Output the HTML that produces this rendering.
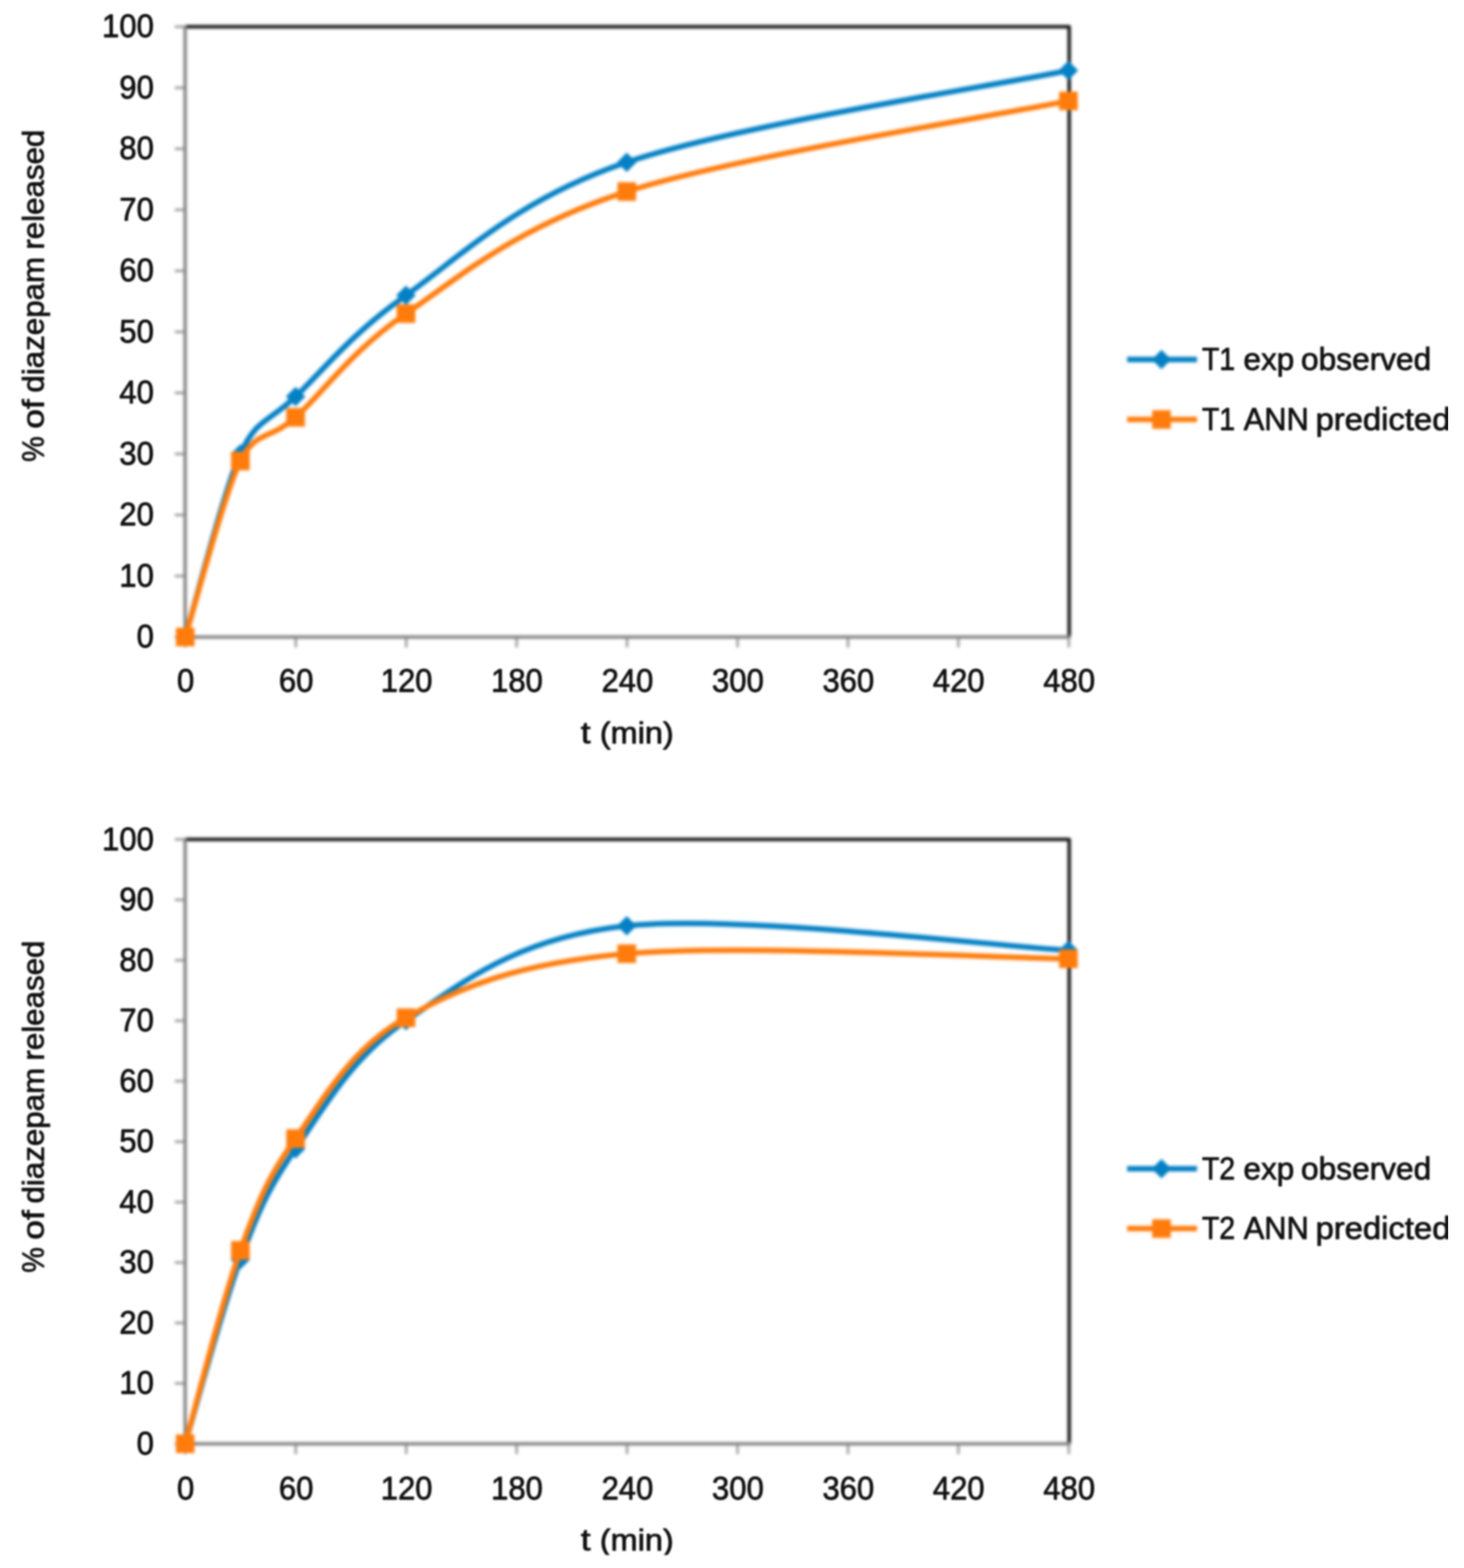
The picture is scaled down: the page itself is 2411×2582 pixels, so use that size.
<!DOCTYPE html>
<html lang="en">
<head>
<meta charset="utf-8">
<title>Diazepam release: experimentally observed vs ANN predicted (T1, T2)</title>
<style>
html,body{margin:0;padding:0;background:#fff}
html{width:2411px;height:2582px;overflow:hidden}
body{width:2411px;height:2582px;position:relative;overflow:hidden}
.wrap{width:2385px;height:2582px;overflow:hidden;position:absolute;left:0;top:0}
svg{display:block;position:absolute;left:0;top:0}
.shapes{filter:blur(2.4px)}
.texts{filter:blur(1.8px)}
text{font-family:"Liberation Sans",sans-serif;font-size:54.5px;fill:#111111;stroke:#111111;stroke-width:1.25px;stroke-linejoin:round;white-space:pre}
.ttl{font-size:50.5px}
.lg{font-size:52.0px}
.ylab text{text-anchor:end}
.xlab text{text-anchor:middle}
.border{fill:none;stroke:#0c0c0c;stroke-width:5.5;stroke-linejoin:round}
.axis{fill:none;stroke:#838383;stroke-width:5.5}
.tick{fill:none;stroke:#9a9a9a;stroke-width:4.0}
.ln{fill:none;stroke-width:9.0;stroke-linejoin:round}
.b{stroke:#0480c4}.o{stroke:#ff7c0c}
.bf{fill:#0480c4}.of{fill:#ff7c0c}
</style>
</head>
<body>
<div class="wrap">
<svg width="2411" height="2582" viewBox="0 0 2411 2582" role="img">
<defs><clipPath id="cutb"><rect x="0" y="0" width="2411" height="2560.6"/></clipPath></defs>
<rect width="2411" height="2582" fill="#fff"/>
<g class="shapes">
<g class="plot" aria-label="T1 plot area">
<path class="border" d="M304.9 44.1H1760.8V1049"/>
<path class="tick" d="M287.9 1049H304.9M287.9 948.5H304.9M287.9 848H304.9M287.9 747.5H304.9M287.9 647H304.9M287.9 546.5H304.9M287.9 446.1H304.9M287.9 345.6H304.9M287.9 245.1H304.9M287.9 144.6H304.9M287.9 44.1H304.9M305.2 1049V1066M487.1 1049V1066M669 1049V1066M850.8 1049V1066M1032.7 1049V1066M1214.6 1049V1066M1396.5 1049V1066M1578.3 1049V1066M1760.2 1049V1066"/>
<path class="axis" d="M304.9 42.1V1049H1762.8"/>
<path class="ln b" d="M305 1049C320.2 998.8 368.6 807.1 395.9 747.5C423.3 688 441.4 696.6 486.8 653.1C532.3 609.5 577.7 550.6 668.6 486.3C759.5 421.9 850.4 328.9 1032.2 267.2C1214.1 205.5 1638.3 141.2 1759.5 116"/>
<g class="mk bf"><path d="M305 1033L321 1049L305 1065L289 1049Z"/><path d="M395.9 731.5L411.9 747.5L395.9 763.5L379.9 747.5Z"/><path d="M486.8 637.1L502.8 653.1L486.8 669.1L470.8 653.1Z"/><path d="M668.6 470.3L684.6 486.3L668.6 502.3L652.6 486.3Z"/><path d="M1032.2 251.2L1048.2 267.2L1032.2 283.2L1016.2 267.2Z"/><path d="M1759.5 100L1775.5 116L1759.5 132L1743.5 116Z"/></g>
<path class="ln o" d="M305 1049C320.2 1000.7 369.9 810.9 395.9 759.1C421.9 707.3 443.5 725.8 486.8 687.2C530.1 648.7 577.7 578.4 668.6 516.4C759.5 454.4 850.4 373.8 1032.2 315.4C1214.1 257.1 1638.3 191.1 1759.5 166.2"/>
<g class="mk of"><rect x="289.7" y="1033.7" width="30.6" height="30.6"/><rect x="380.6" y="743.8" width="30.6" height="30.6"/><rect x="471.5" y="671.9" width="30.6" height="30.6"/><rect x="653.3" y="501.1" width="30.6" height="30.6"/><rect x="1016.9" y="300.1" width="30.6" height="30.6"/><rect x="1744.2" y="150.9" width="30.6" height="30.6"/></g>
<path class="ln b" d="M1856.2 592.1H1971.3"/>
<g class="mk bf"><path d="M1912.8 576.1L1928.8 592.1L1912.8 608.1L1896.8 592.1Z"/></g>
<path class="ln o" d="M1856.2 690.8H1971.3"/>
<g class="mk of"><rect x="1897.5" y="675.5" width="30.6" height="30.6"/></g>
</g>
<g class="plot" aria-label="T2 plot area">
<path class="border" d="M304.9 1382.3H1760.8V2377.4"/>
<path class="tick" d="M287.9 2377.4H304.9M287.9 2277.9H304.9M287.9 2178.4H304.9M287.9 2078.9H304.9M287.9 1979.4H304.9M287.9 1879.9H304.9M287.9 1780.3H304.9M287.9 1680.8H304.9M287.9 1581.3H304.9M287.9 1481.8H304.9M287.9 1382.3H304.9M305.2 2377.4V2394.4M487.1 2377.4V2394.4M669 2377.4V2394.4M850.8 2377.4V2394.4M1032.7 2377.4V2394.4M1214.6 2377.4V2394.4M1396.5 2377.4V2394.4M1578.3 2377.4V2394.4M1760.2 2377.4V2394.4"/>
<path class="axis" d="M304.9 1380.3V2377.4H1762.8"/>
<path class="ln b" d="M305 2377.4C320.2 2326.8 365.6 2154.8 395.9 2073.9C426.2 1993 441.4 1957.3 486.8 1891.8C532.3 1826.3 577.7 1742 668.6 1680.8C759.5 1619.6 850.4 1543.9 1032.2 1524.6C1214.1 1505.3 1638.3 1558.2 1759.5 1564.9"/>
<g class="mk bf"><path d="M305 2361.4L321 2377.4L305 2393.4L289 2377.4Z"/><path d="M395.9 2057.9L411.9 2073.9L395.9 2089.9L379.9 2073.9Z"/><path d="M486.8 1875.8L502.8 1891.8L486.8 1907.8L470.8 1891.8Z"/><path d="M668.6 1664.8L684.6 1680.8L668.6 1696.8L652.6 1680.8Z"/><path d="M1032.2 1508.6L1048.2 1524.6L1032.2 1540.6L1016.2 1524.6Z"/><path d="M1759.5 1548.9L1775.5 1564.9L1759.5 1580.9L1743.5 1564.9Z"/></g>
<path class="ln o" d="M305 2377.4C320.2 2324.3 365.6 2142.7 395.9 2059C426.2 1975.2 441.4 1938.7 486.8 1874.9C532.3 1811 577.7 1726.6 668.6 1675.9C759.5 1625.1 850.4 1586.5 1032.2 1570.4C1214.1 1554.2 1638.3 1577.4 1759.5 1578.8"/>
<g class="mk of"><rect x="289.7" y="2362.1" width="30.6" height="30.6"/><rect x="380.6" y="2043.7" width="30.6" height="30.6"/><rect x="471.5" y="1859.6" width="30.6" height="30.6"/><rect x="653.3" y="1660.6" width="30.6" height="30.6"/><rect x="1016.9" y="1555.1" width="30.6" height="30.6"/><rect x="1744.2" y="1563.5" width="30.6" height="30.6"/></g>
<path class="ln b" d="M1856.2 1924.5H1971.3"/>
<g class="mk bf"><path d="M1912.8 1908.5L1928.8 1924.5L1912.8 1940.5L1896.8 1924.5Z"/></g>
<path class="ln o" d="M1856.2 2023.1H1971.3"/>
<g class="mk of"><rect x="1897.5" y="2007.8" width="30.6" height="30.6"/></g>
</g>
</g>
<g class="texts">
<g class="labels" aria-label="T1 labels">
<g class="ylab">
<text x="253.3" y="61.3" textLength="85.2" lengthAdjust="spacingAndGlyphs">100</text>
<text x="253.3" y="161.8" textLength="56.8" lengthAdjust="spacingAndGlyphs">90</text>
<text x="253.3" y="262.3" textLength="56.8" lengthAdjust="spacingAndGlyphs">80</text>
<text x="253.3" y="362.8" textLength="56.8" lengthAdjust="spacingAndGlyphs">70</text>
<text x="253.3" y="463.3" textLength="56.8" lengthAdjust="spacingAndGlyphs">60</text>
<text x="253.3" y="563.8" textLength="56.8" lengthAdjust="spacingAndGlyphs">50</text>
<text x="253.3" y="664.3" textLength="56.8" lengthAdjust="spacingAndGlyphs">40</text>
<text x="253.3" y="764.8" textLength="56.8" lengthAdjust="spacingAndGlyphs">30</text>
<text x="253.3" y="865.3" textLength="56.8" lengthAdjust="spacingAndGlyphs">20</text>
<text x="253.3" y="965.7" textLength="56.8" lengthAdjust="spacingAndGlyphs">10</text>
<text x="253.3" y="1066.2" textLength="28.4" lengthAdjust="spacingAndGlyphs">0</text>
</g>
<g class="xlab">
<text x="305.8" y="1138.9" textLength="28.4" lengthAdjust="spacingAndGlyphs">0</text>
<text x="487.7" y="1138.9" textLength="56.8" lengthAdjust="spacingAndGlyphs">60</text>
<text x="669.6" y="1138.9" textLength="85.2" lengthAdjust="spacingAndGlyphs">120</text>
<text x="851.4" y="1138.9" textLength="85.2" lengthAdjust="spacingAndGlyphs">180</text>
<text x="1033.3" y="1138.9" textLength="85.2" lengthAdjust="spacingAndGlyphs">240</text>
<text x="1215.2" y="1138.9" textLength="85.2" lengthAdjust="spacingAndGlyphs">300</text>
<text x="1397" y="1138.9" textLength="85.2" lengthAdjust="spacingAndGlyphs">360</text>
<text x="1578.9" y="1138.9" textLength="85.2" lengthAdjust="spacingAndGlyphs">420</text>
<text x="1760.8" y="1138.9" textLength="85.2" lengthAdjust="spacingAndGlyphs">480</text>
</g>
<text class="ttl" y="1224.2"><tspan x="956.4" textLength="16.1" lengthAdjust="spacingAndGlyphs">t</tspan> <tspan x="987.8" textLength="121.8" lengthAdjust="spacingAndGlyphs">(min)</tspan></text>
<text class="ttl" transform="translate(72 0) rotate(-90)" y="0"><tspan x="-760.4" textLength="42.1" lengthAdjust="spacingAndGlyphs">%</tspan> <tspan x="-706.1" textLength="48.5" lengthAdjust="spacingAndGlyphs">of</tspan> <tspan x="-646.5" textLength="223.4" lengthAdjust="spacingAndGlyphs">diazepam</tspan> <tspan x="-411.1" textLength="197.6" lengthAdjust="spacingAndGlyphs">released</tspan></text>
<text class="lg" y="609.1"><tspan x="1979.4" textLength="54.6" lengthAdjust="spacingAndGlyphs">T1</tspan> <tspan x="2047.8" textLength="83.6" lengthAdjust="spacingAndGlyphs">exp</tspan> <tspan x="2142.6" textLength="214.5" lengthAdjust="spacingAndGlyphs">observed</tspan></text>
<text class="lg" y="707.8"><tspan x="1979.4" textLength="54.6" lengthAdjust="spacingAndGlyphs">T1</tspan> <tspan x="2048.2" textLength="107.1" lengthAdjust="spacingAndGlyphs">ANN</tspan> <tspan x="2166.4" textLength="222.3" lengthAdjust="spacingAndGlyphs">predicted</tspan></text>
</g>
<g class="labels" aria-label="T2 labels">
<g class="ylab">
<text x="253.3" y="1399.5" textLength="85.2" lengthAdjust="spacingAndGlyphs">100</text>
<text x="253.3" y="1499" textLength="56.8" lengthAdjust="spacingAndGlyphs">90</text>
<text x="253.3" y="1598.6" textLength="56.8" lengthAdjust="spacingAndGlyphs">80</text>
<text x="253.3" y="1698.1" textLength="56.8" lengthAdjust="spacingAndGlyphs">70</text>
<text x="253.3" y="1797.6" textLength="56.8" lengthAdjust="spacingAndGlyphs">60</text>
<text x="253.3" y="1897.1" textLength="56.8" lengthAdjust="spacingAndGlyphs">50</text>
<text x="253.3" y="1996.6" textLength="56.8" lengthAdjust="spacingAndGlyphs">40</text>
<text x="253.3" y="2096.1" textLength="56.8" lengthAdjust="spacingAndGlyphs">30</text>
<text x="253.3" y="2195.6" textLength="56.8" lengthAdjust="spacingAndGlyphs">20</text>
<text x="253.3" y="2295.1" textLength="56.8" lengthAdjust="spacingAndGlyphs">10</text>
<text x="253.3" y="2394.6" textLength="28.4" lengthAdjust="spacingAndGlyphs">0</text>
</g>
<g class="xlab">
<text x="305.8" y="2468.5" textLength="28.4" lengthAdjust="spacingAndGlyphs">0</text>
<text x="487.7" y="2468.5" textLength="56.8" lengthAdjust="spacingAndGlyphs">60</text>
<text x="669.6" y="2468.5" textLength="85.2" lengthAdjust="spacingAndGlyphs">120</text>
<text x="851.4" y="2468.5" textLength="85.2" lengthAdjust="spacingAndGlyphs">180</text>
<text x="1033.3" y="2468.5" textLength="85.2" lengthAdjust="spacingAndGlyphs">240</text>
<text x="1215.2" y="2468.5" textLength="85.2" lengthAdjust="spacingAndGlyphs">300</text>
<text x="1397" y="2468.5" textLength="85.2" lengthAdjust="spacingAndGlyphs">360</text>
<text x="1578.9" y="2468.5" textLength="85.2" lengthAdjust="spacingAndGlyphs">420</text>
<text x="1760.8" y="2468.5" textLength="85.2" lengthAdjust="spacingAndGlyphs">480</text>
</g>
<text class="ttl" clip-path="url(#cutb)" y="2553.2"><tspan x="956.4" textLength="16.1" lengthAdjust="spacingAndGlyphs">t</tspan> <tspan x="987.8" textLength="121.8" lengthAdjust="spacingAndGlyphs">(min)</tspan></text>
<text class="ttl" transform="translate(72 0) rotate(-90)" y="0"><tspan x="-2095.7" textLength="42.1" lengthAdjust="spacingAndGlyphs">%</tspan> <tspan x="-2041.4" textLength="48.5" lengthAdjust="spacingAndGlyphs">of</tspan> <tspan x="-1981.8" textLength="223.4" lengthAdjust="spacingAndGlyphs">diazepam</tspan> <tspan x="-1746.4" textLength="197.6" lengthAdjust="spacingAndGlyphs">released</tspan></text>
<text class="lg" y="1941.5"><tspan x="1979.4" textLength="54.6" lengthAdjust="spacingAndGlyphs">T2</tspan> <tspan x="2047.8" textLength="83.6" lengthAdjust="spacingAndGlyphs">exp</tspan> <tspan x="2142.6" textLength="214.5" lengthAdjust="spacingAndGlyphs">observed</tspan></text>
<text class="lg" y="2040.1"><tspan x="1979.4" textLength="54.6" lengthAdjust="spacingAndGlyphs">T2</tspan> <tspan x="2048.2" textLength="107.1" lengthAdjust="spacingAndGlyphs">ANN</tspan> <tspan x="2166.4" textLength="222.3" lengthAdjust="spacingAndGlyphs">predicted</tspan></text>
</g>
</g>
</svg>
</div>
</body>
</html>
